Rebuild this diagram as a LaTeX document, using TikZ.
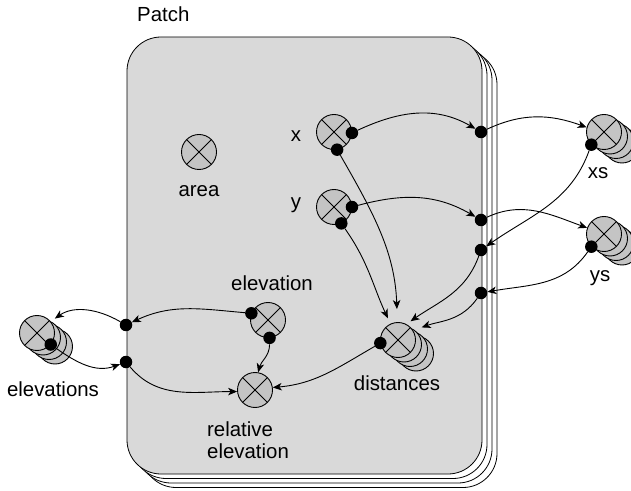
\documentclass[tikz,border=0pt]{standalone}
\usepackage{fontspec}
\setmainfont{Liberation Sans}
\usepackage{xcolor}
\usepackage{tikz}
\usetikzlibrary{positioning,arrows.meta,calc}
\definecolor{patchgray}{RGB}{217,217,217}
\definecolor{stockgray}{RGB}{196,196,196}

\begin{document}
\begin{tikzpicture}[x=1pt, y=1pt,
    patchbox/.style={draw, line width=0.8pt, fill=patchgray, rounded corners=34pt, minimum width=355pt, minimum height=437pt, inner sep=0pt},
    stock/.style={circle, draw, line width=0.9pt, fill=stockgray, minimum size=35pt, inner sep=0pt,
        path picture={\draw[line width=0.8pt] (path picture bounding box.north west) -- (path picture bounding box.south east)
            (path picture bounding box.north east) -- (path picture bounding box.south west);}},
    ghost/.style={circle, draw, line width=0.9pt, fill=stockgray, minimum size=35pt, inner sep=0pt},
    dot/.style={circle, fill=black, minimum size=12.5pt, inner sep=0pt},
    lbl/.style={font=\fontsize{20.4}{21.5}\selectfont, inner sep=0pt, anchor=base},
    flow/.style={line width=0.9pt, -{Stealth[length=9pt, width=7.5pt, inset=2.5pt]}},
]
\useasboundingbox (0,0) rectangle (631,490);

\foreach \s in {3,2,1}
    \node[patchbox, fill=white] at (304.5+5*\s, 234.5-4.5*\s) {};
\node[patchbox] (patch) at (304.5,234.5) {};

\foreach \s in {3,2,1} {
    \node[ghost] at (604+6*\s, 358-4.5*\s) {};
    \node[ghost] at (604+6*\s, 256-4.5*\s) {};
    \node[ghost] at (398+6*\s, 150-4.5*\s) {};
    \node[ghost] at (37+6*\s, 157-4.5*\s) {};
}

\node[stock] (area) at (199,338) {};
\node[stock] (xpos) at (334,358) {};
\node[stock] (ypos) at (334,283) {};
\node[stock] (xs) at (604,358) {};
\node[stock] (ys) at (604,256) {};
\node[stock] (dist) at (398,150) {};
\node[stock] (elev) at (268,170) {};
\node[stock] (relelev) at (255,100) {};
\node[stock] (elevs) at (37,157) {};

\node[lbl, anchor=base west] (patchlbl) at (137,468.3) {Patch};
\node[lbl] (arealbl) at (199,293.3) {area};
\node[lbl] (xlbl) at (296,348.3) {x};
\node[lbl] (ylbl) at (296,281.5) {y};
\node[lbl] (xslbl) at (598,311.7) {xs};
\node[lbl] (yslbl) at (600,208.3) {ys};
\node[lbl] (distlbl) at (397,100) {distances};
\node[lbl] (elevlbl) at (272,199) {elevation};
\node[lbl] (elevslbl) at (53,93.3) {elevations};
\node[lbl, anchor=base west, align=left] (relelevlbl) at (207,32) {relative\\elevation};

\node[dot] (xo) at (xpos.-3) {};
\node[dot] (xd) at (xpos.-80) {};
\node[dot] (yo) at (ypos.0) {};
\node[dot] (yd) at (ypos.-66) {};
\node[dot] (xso) at (xs.225) {};
\node[dot] (yso) at (ys.225) {};
\node[dot] (disto) at (dist.190) {};
\node[dot] (elevo) at (elev.158) {};
\node[dot] (elevd) at (elev.275) {};
\node[dot] (elevso) at (elevs.-40) {};
% ports on the patch edges
\node[dot] (pxout) at (481,358) {};
\node[dot] (pyout) at (481,270) {};
\node[dot] (pxin) at (481,240) {};
\node[dot] (pyin) at (481,197) {};
\node[dot] (pelevout) at (126,165) {};
\node[dot] (pelevin) at (126,128) {};

\draw[flow] (xo) to[out=25, in=150] (pxout);
\draw[flow] (pxout) to[out=25, in=160] (xs.165);
\draw[flow] (xso) to[out=-110, in=35] (pxin);
\draw[flow] (yo) to[out=15, in=150] (pyout);
\draw[flow] (pyout) to[out=25, in=160] (ys.160);
\draw[flow] (yso) to[out=-125, in=10] (pyin);
\draw[flow, shorten >=13pt] (xd) to[out=-60, in=92] (dist.92);
\draw[flow, shorten >=6pt] (yd) to[out=-55, in=115] (dist.115);
\draw[flow, shorten >=5pt] (pxin) to[out=-110, in=35] (dist.62);
\draw[flow, shorten >=9pt] (pyin) to[out=-125, in=20] (dist.32);
\draw[flow] (disto) to[out=-150, in=5] (relelev.8);
\draw[flow] (elevo) to[out=175, in=25] (pelevout);
\draw[flow, shorten >=5pt] (pelevout) to[out=150, in=35] (elevs.40);
\draw[flow] (elevso) to[out=-35, in=200] (pelevin);
\draw[flow] (pelevin) to[out=-50, in=180] (relelev.185);
\draw[flow] (elevd) to[out=-90, in=75] (relelev.80);
\end{tikzpicture}
\end{document}
